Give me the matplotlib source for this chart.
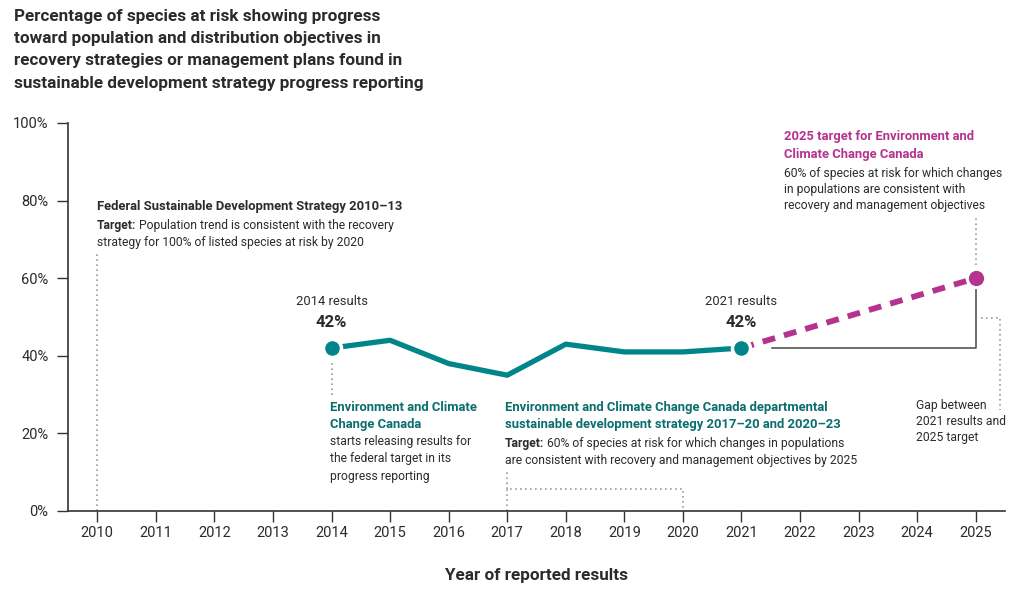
import matplotlib.pyplot as plt
import matplotlib.ticker as mticker

plt.rcParams['font.family'] = ['Roboto', 'DejaVu Sans']

years = [2014, 2015, 2016, 2017, 2018, 2019, 2020, 2021]
pct = [42, 44, 38, 35, 43, 41, 41, 42]
target_years = [2021, 2025]
target_pct = [42, 60]
xticks = list(range(2010, 2026))
yticks = [0, 20, 40, 60, 80, 100]

teal = '#00868A'
teal_text = '#0B6E6E'
magenta = '#B5338F'
dark = '#2b2b2b'
grey = '#999999'

fig = plt.figure(figsize=(10.24, 5.91), dpi=100)
ax = fig.add_axes([68/1024, 1-511/591, (1005-68)/1024, (511-123)/591])
ax.set_xlim(2009.5, 2025.5)
ax.set_ylim(0, 100)

# series
ax.plot(years, pct, color=teal, lw=3.8, solid_capstyle='butt', zorder=3)
ax.plot(target_years, target_pct, color=magenta, lw=4.2, dashes=(2.2, 1.6), zorder=2)
ax.plot([years[0], years[-1]], [pct[0], pct[-1]], 'o', ms=13, color=teal,
        mec='white', mew=2.5, zorder=4)
ax.plot([target_years[-1]], [target_pct[-1]], 'o', ms=13, color=magenta,
        mec='white', mew=2, zorder=4)

# gap bracket
ax.plot([2021.52, 2025, 2025], [42, 42, 57], color='#555555', lw=1.2, zorder=1)

# dotted guides
dot = dict(color=grey, lw=1.2, ls=(0, (1, 2)), zorder=1)
ax.plot([2010, 2010], [0, 66.5], **dot)
ax.plot([2014, 2014], [29.9, 38.4], **dot)
ax.plot([2017, 2017, 2020, 2020], [0, 5.7, 5.7, 0], **dot)
ax.plot([2017, 2017], [5.7, 10.6], **dot)
ax.plot([2025, 2025], [63.4, 76.3], **dot)
ax.plot([2025.09, 2025.41, 2025.41], [49.7, 49.7, 26], **dot)

# axes styling
for s in ['top', 'right']:
    ax.spines[s].set_visible(False)
for s in ['left', 'bottom']:
    ax.spines[s].set_color('#333333')
    ax.spines[s].set_linewidth(1.2)
ax.set_xticks(xticks)
ax.set_yticks(yticks)
ax.yaxis.set_major_formatter(mticker.FuncFormatter(lambda v, p: f'{v:.0f}%'))
ax.tick_params(axis='both', length=8, width=1, color='#333333',
               labelsize=10.5, labelcolor=dark)
ax.tick_params(axis='x', pad=3)
ax.tick_params(axis='y', pad=6)
ax.set_xlabel('Year of reported results', fontsize=12.3, fontweight='bold',
              color=dark, labelpad=20)

fig.text(14/1024, 1-9/591, 'Percentage of species at risk showing progress\n'
         'toward population and distribution objectives in\n'
         'recovery strategies or management plans found in\n'
         'sustainable development strategy progress reporting',
         fontsize=12.3, fontweight='bold', color=dark, va='top', ha='left',
         linespacing=1.6)

fs = 8.7
hfs = 9.4
dy = 4.12


def lines(x, y0, texts, step=dy, **kw):
    for i, t in enumerate(texts):
        ax.text(x, y0 - i * step, t, va='center', **kw)


def target_line(x, y, rest):
    t = ax.text(x, y, 'Target:', fontsize=fs, fontweight='bold', color=dark, va='center')
    ax.annotate(rest, xy=(1, 0), xycoords=t, xytext=(2, 0), textcoords='offset points',
                fontsize=fs, color=dark, va='bottom')


# annotations
ax.text(2009.99, 78.4, 'Federal Sustainable Development Strategy 2010\u201313',
        fontsize=hfs, fontweight='bold', color=dark, va='center')
target_line(2009.99, 73.5, 'Population trend is consistent with the recovery')
ax.text(2009.99, 69.3, 'strategy for 100% of listed species at risk by 2020',
        fontsize=fs, color=dark, va='center')

for yr, v in [(years[0], pct[0]), (years[-1], pct[-1])]:
    ax.text(yr, 54.1, f'{yr} results', fontsize=9.4, color=dark, ha='center', va='center')
    ax.text(yr, 48.7, f'{v}%', fontsize=12, fontweight='bold', color=dark,
            ha='center', va='center')

lines(2013.97, 26.8, ['Environment and Climate', 'Change Canada'], step=4.6,
      fontsize=hfs, fontweight='bold', color=teal_text)
lines(2013.97, 18.0, ['starts releasing results for', 'the federal target in its',
                      'progress reporting'], step=4.5, fontsize=fs, color=dark)

lines(2016.96, 26.8, ['Environment and Climate Change Canada departmental',
                      'sustainable development strategy 2017\u201320 and 2020\u201323'],
      step=4.6, fontsize=hfs, fontweight='bold', color=teal_text)
target_line(2016.96, 17.3, '60% of species at risk for which changes in populations')
ax.text(2016.96, 13.1, 'are consistent with recovery and management objectives by 2025',
        fontsize=fs, color=dark, va='center')

lines(2021.72, 96.6, ['2025 target for Environment and', 'Climate Change Canada'],
      step=4.6, fontsize=hfs, fontweight='bold', color=magenta)
lines(2021.72, 86.9, ['60% of species at risk for which changes',
                      'in populations are consistent with',
                      'recovery and management objectives'], fontsize=fs, color=dark)

lines(2023.98, 27.1, ['Gap between', '2021 results and', '2025 target'],
      fontsize=fs, color=dark)

fig.savefig('out.png', dpi=100)
